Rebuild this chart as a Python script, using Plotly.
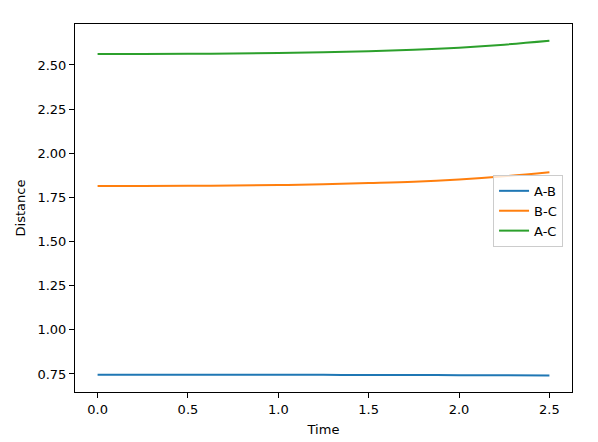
import plotly.graph_objects as go

time = [0.0, 0.25, 0.5, 0.75, 1.0, 1.25, 1.5, 1.75, 2.0, 2.25, 2.5]
ab = [0.746, 0.746, 0.746, 0.7458, 0.7455, 0.745, 0.7447, 0.744, 0.7435, 0.743, 0.742]
bc = [1.814, 1.8145, 1.8155, 1.817, 1.820, 1.824, 1.831, 1.839, 1.852, 1.870, 1.893]
ac = [2.562, 2.5625, 2.5635, 2.565, 2.568, 2.572, 2.578, 2.586, 2.598, 2.615, 2.637]
names = ["A-B", "B-C", "A-C"]
colors = ["#1f77b4", "#ff7f0e", "#2ca02c"]

fig = go.Figure()
for name, ys, c in zip(names, [ab, bc, ac], colors):
    fig.add_trace(go.Scatter(x=time, y=ys, mode="lines", name=name,
                             line=dict(color=c, width=2, shape="spline")))

font = dict(family="DejaVu Sans", size=13, color="black")
axis_common = dict(showline=True, linecolor="black", linewidth=1, mirror=True,
                   ticks="outside", ticklen=5, tickcolor="black", showgrid=False,
                   zeroline=False, tickfont=font, automargin=False)
fig.update_xaxes(range=[-0.125, 2.625], tickvals=[0, 0.5, 1.0, 1.5, 2.0, 2.5],
                 ticktext=["0.0", "0.5", "1.0", "1.5", "2.0", "2.5"],
                 title=dict(text="Time", font=font, standoff=9), **axis_common)
fig.update_yaxes(range=[0.648, 2.732],
                 tickvals=[0.75, 1.0, 1.25, 1.5, 1.75, 2.0, 2.25, 2.5],
                 ticktext=["0.75", "1.00", "1.25", "1.50", "1.75", "2.00", "2.25", "2.50"],
                 title=dict(text="Distance", font=font, standoff=8), **axis_common)
fig.update_layout(
    width=590, height=434,
    margin=dict(l=67, r=26, t=16, b=50),
    plot_bgcolor="white", paper_bgcolor="white",
    font=font,
    legend=dict(x=0.982, y=0.59, xanchor="right", yanchor="top",
                bgcolor="rgba(255,255,255,0.8)", bordercolor="#cccccc", borderwidth=1,
                font=font, tracegroupgap=0, itemwidth=30),
)
fig.write_html("out.html")
